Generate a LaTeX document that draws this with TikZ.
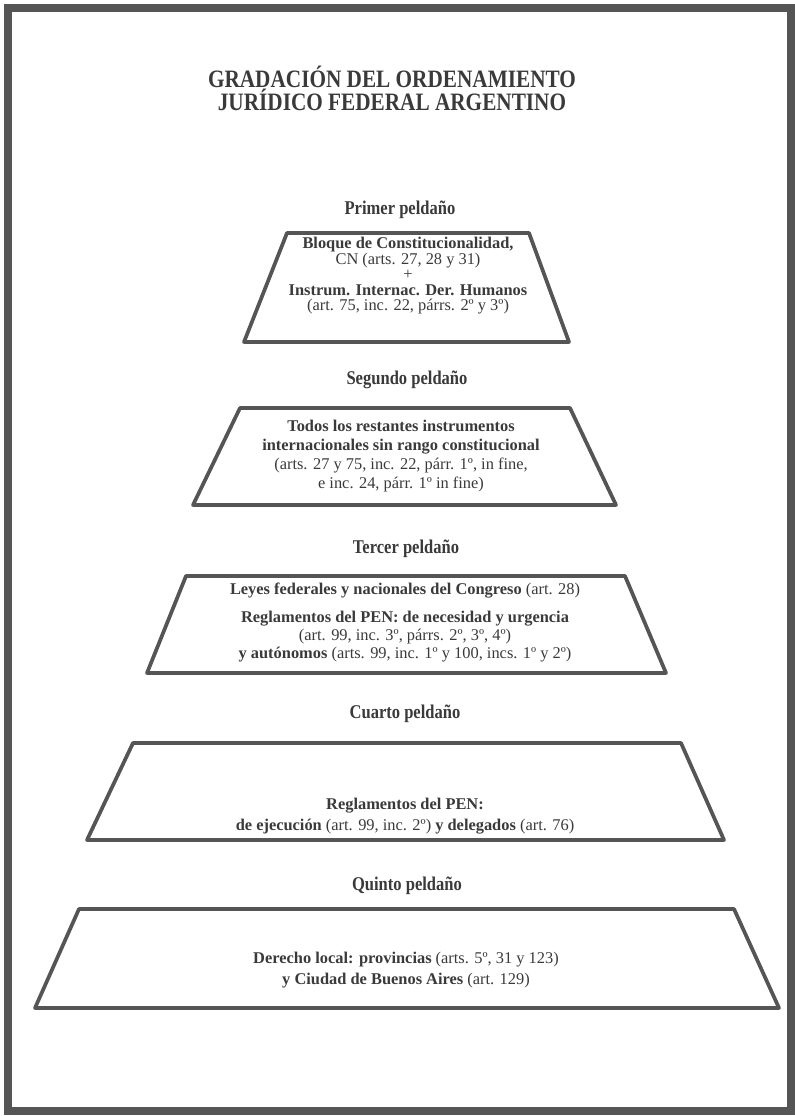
\documentclass[tikz,border=0pt]{standalone}
\usepackage{fontspec}
\setmainfont{Liberation Serif}
\newfontfamily\condfont{Liberation Serif}[FakeStretch=0.85]
\usepackage{xcolor}
\definecolor{tinta}{HTML}{3A3A3A}
\definecolor{trazo}{HTML}{555555}

\begin{document}
\begin{tikzpicture}[x=0.75pt,y=-0.75pt,
  peldano/.style={draw=trazo,line width=2.8pt,line join=round},
  rotulo/.style={text=tinta,inner sep=0pt,font=\condfont\bfseries\fontsize{14.6}{17}\selectfont},
  texto/.style={text=tinta,align=center,inner sep=0pt}]
\useasboundingbox (0,0) rectangle (794,1116);
\draw[trazo,line width=5.5pt] (8,8) rectangle (791,1111);
\node[text=tinta,align=center,inner sep=0pt,font=\condfont\bfseries\fontsize{18.75}{17.25}\selectfont] (titulo) at (392,88) {GRADACIÓN DEL ORDENAMIENTO\\ JURÍDICO FEDERAL ARGENTINO};
% primer peldano
\node[rotulo] (primer) at (400,210) {Primer peldaño};
\draw[peldano] (287,233) -- (529,233) -- (569,342) -- (244,342) -- cycle;
\node[texto,font=\fontsize{12.3}{11.6}\selectfont] (bloque) at (408,276) {\textbf{Bloque de Constitucionalidad,}\\ CN (arts. 27, 28 y 31)\\ +\\ \textbf{Instrum. Internac. Der. Humanos}\\ (art. 75, inc. 22, párrs. 2º y 3º)};
% segundo peldano
\node[rotulo] (segundo) at (407,380) {Segundo peldaño};
\draw[peldano] (240,408) -- (570,408) -- (616,505) -- (193,505) -- cycle;
\node[texto,font=\fontsize{12.3}{14.25}\selectfont] (todos) at (401,456) {\textbf{Todos los restantes instrumentos}\\ \textbf{internacionales sin rango constitucional}\\ (arts. 27 y 75, inc. 22, párr. 1º, in fine,\\ e inc. 24, párr. 1º in fine)};
% tercer peldano
\node[rotulo] (tercer) at (406,549) {Tercer peldaño};
\draw[peldano] (186,576) -- (625,576) -- (666,673) -- (147,673) -- cycle;
\node[texto,font=\fontsize{12.3}{13.5}\selectfont] (leyes) at (405,591) {\textbf{Leyes federales y nacionales del Congreso} (art. 28)};
\node[texto,font=\fontsize{12.3}{13.5}\selectfont] (decretos) at (405,637) {\textbf{Reglamentos del PEN: de necesidad y urgencia}\\ (art. 99, inc. 3º, párrs. 2º, 3º, 4º)\\ \textbf{y autónomos} (arts. 99, inc. 1º y 100, incs. 1º y 2º)};
% cuarto peldano
\node[rotulo] (cuarto) at (405,714) {Cuarto peldaño};
\draw[peldano] (133,743) -- (681,743) -- (724,840) -- (87,840) -- cycle;
\node[texto,font=\fontsize{12.3}{16}\selectfont] (ejecucion) at (405,816) {\textbf{Reglamentos del PEN:}\\ \textbf{de ejecución} (art. 99, inc. 2º) \textbf{y delegados} (art. 76)};
% quinto peldano
\node[rotulo] (quinto) at (407,886) {Quinto peldaño};
\draw[peldano] (79,909) -- (734,909) -- (779,1008) -- (35,1008) -- cycle;
\node[texto,font=\fontsize{12.3}{16}\selectfont] (local) at (406,970) {\textbf{Derecho local: provincias} (arts. 5º, 31 y 123)\\ \textbf{y Ciudad de Buenos Aires} (art. 129)};
\end{tikzpicture}
\end{document}
